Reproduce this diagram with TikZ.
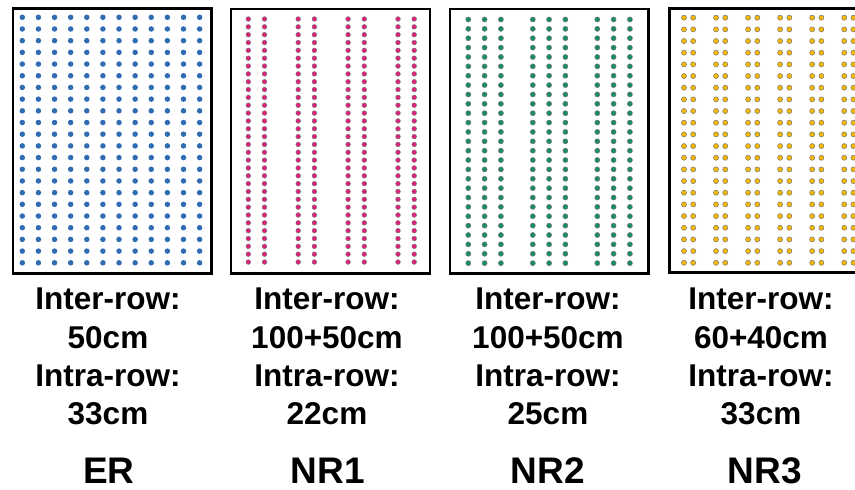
\documentclass[tikz,border=0pt]{standalone}
\usepackage{fontspec}
\setmainfont{Liberation Sans}
\definecolor{erblue}{RGB}{47,108,180}
\definecolor{nrmag}{RGB}{228,28,124}
\definecolor{nrgreen}{RGB}{22,140,104}
\definecolor{nryel}{RGB}{246,184,0}
\definecolor{dotedge}{RGB}{120,120,120}
\tikzset{
  panelbox/.style={draw=black, line width=2.6pt},
  lbl/.style={anchor=base, inner sep=0pt, font=\bfseries\fontsize{31.5}{38}\selectfont},
  ttl/.style={anchor=base, inner sep=0pt, font=\bfseries\fontsize{37}{44}\selectfont},
  erdot/.style={fill=erblue},
  magdot/.style={fill=nrmag, draw=dotedge, line width=0.5pt},
  grndot/.style={fill=nrgreen, draw=dotedge, line width=0.5pt},
  yeldot/.style={fill=nryel, draw=dotedge, line width=0.5pt},
}
\begin{document}
\begin{tikzpicture}[x=1pt,y=-1pt]
\useasboundingbox (0,0) rectangle (855,490);
\fill[white] (0,0) rectangle (855,490);
\begin{scope}
\clip (0,0) rectangle (855,490);
% ER
\draw[panelbox] (12.8,8.3) rectangle (211.5,273.3);
\foreach \i in {0,...,11}{
  \foreach \j in {0,...,21}{
    \fill[erdot] ({22.3+16.12*\i},{17.3+11.69*\j}) circle (2.75);
  }
}
% NR1
\draw[panelbox] (230.8,8.8) rectangle (430,273.5);
\foreach \k in {0,...,3}{
  \foreach \d in {0,16.2}{
    \foreach \j in {0,...,31}{
      \filldraw[magdot] ({248.3+49.9*\k+\d},{19+7.84*\j}) circle (2.35);
    }
  }
}
% NR2
\draw[panelbox] (450,8.8) rectangle (648.7,273.5);
\foreach \k in {0,...,2}{
  \foreach \d in {0,16.3,32.6}{
    \foreach \j in {0,...,26}{
      \filldraw[grndot] ({468.3+64.5*\k+\d},{19.5+9.37*\j}) circle (2.55);
    }
  }
}
% NR3
\draw[panelbox] (669.3,8.5) rectangle (869,272.7);
\foreach \k in {0,...,5}{
  \foreach \d in {0,9.2}{
    \foreach \j in {0,...,21}{
      \filldraw[yeldot] ({684+32.05*\k+\d},{17.7+11.67*\j}) circle (2.55);
    }
  }
}
\end{scope}
% labels
\node[lbl] (er1) at (108,309.3) {Inter-row:};
\node[lbl] (er2) at (108,348.3) {50cm};
\node[lbl] (er3) at (108,386) {Intra-row:};
\node[lbl] (er4) at (108,424.3) {33cm};
\node[ttl] (ert) at (109,483.5) {ER};
\node[lbl] (n11) at (327,309.3) {Inter-row:};
\node[lbl] (n12) at (327,348.3) {100+50cm};
\node[lbl] (n13) at (327,386) {Intra-row:};
\node[lbl] (n14) at (327,424.3) {22cm};
\node[ttl] (n1t) at (328,483.5) {NR1};
\node[lbl] (n21) at (548,309.3) {Inter-row:};
\node[lbl] (n22) at (548,348.3) {100+50cm};
\node[lbl] (n23) at (548,386) {Intra-row:};
\node[lbl] (n24) at (548,424.3) {25cm};
\node[ttl] (n2t) at (548,483.5) {NR2};
\node[lbl] (n31) at (761,309.3) {Inter-row:};
\node[lbl] (n32) at (761,348.3) {60+40cm};
\node[lbl] (n33) at (761,386) {Intra-row:};
\node[lbl] (n34) at (761,424.3) {33cm};
\node[ttl] (n3t) at (765,483.5) {NR3};
\end{tikzpicture}
\end{document}
